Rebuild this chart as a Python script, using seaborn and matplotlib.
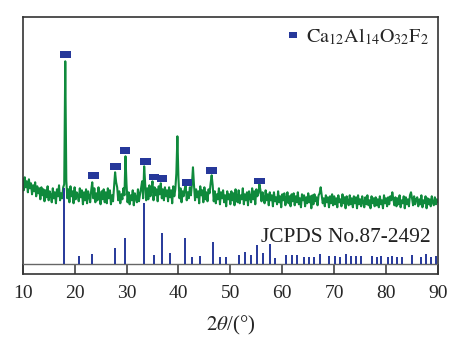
import numpy as np
import pandas as pd
import matplotlib
matplotlib.use("Agg")
import matplotlib.pyplot as plt
from matplotlib.lines import Line2D
import seaborn as sns

# ---- data -------------------------------------------------------------
# measured XRD pattern: 2theta from 10 to 90 deg in 0.2 deg steps (arb. units)
two_theta_start = 10.0
two_theta_step = 0.2
intensity = [
    96, 84, 97, 87, 93, 82, 95, 86, 91, 80, 89, 83, 92, 78, 88, 81, 86, 75, 87, 79,
    85, 73, 84, 77, 88, 74, 83, 79, 72, 86, 76, 82, 71, 85, 78, 89, 74, 81, 76, 87,
    90, 213, 94, 76, 85, 72, 88, 78, 83, 71, 87, 75, 82, 79, 73, 86, 77, 84, 70, 82,
    74, 85, 71, 83, 78, 72, 84, 92, 76, 86, 72, 81, 74, 87, 77, 70, 83, 75, 85, 72,
    82, 71, 86, 76, 84, 70, 79, 73, 88, 102, 92, 87, 74, 83, 71, 80, 75, 86, 79, 118,
    90, 72, 82, 70, 79, 74, 84, 69, 81, 76, 72, 85, 73, 80, 86, 93, 76, 108, 90, 74,
    86, 75, 89, 78, 84, 93, 74, 87, 79, 85, 73, 88, 80, 91, 76, 85, 74, 87, 78, 84,
    73, 87, 77, 84, 71, 88, 78, 85, 101, 138, 96, 76, 86, 72, 83, 78, 85, 89, 74, 82,
    76, 87, 79, 90, 107, 89, 74, 85, 77, 83, 71, 88, 79, 84, 72, 87, 75, 82, 73, 85,
    81, 91, 99, 89, 73, 83, 71, 80, 75, 86, 70, 82, 76, 84, 72, 79, 68, 83, 75, 80,
    70, 83, 74, 81, 69, 85, 76, 72, 84, 71, 79, 75, 86, 70, 80, 74, 82, 69, 83, 77,
    72, 86, 75, 83, 70, 85, 78, 81, 90, 84, 73, 82, 76, 71, 84, 74, 80, 69, 82, 74,
    79, 68, 82, 73, 77, 70, 83, 72, 78, 67, 80, 74, 81, 69, 76, 82, 71, 78, 68, 80,
    73, 81, 69, 78, 72, 82, 70, 76, 67, 80, 74, 79, 68, 77, 71, 81, 72, 78, 66, 79,
    70, 80, 73, 77, 69, 79, 81, 87, 79, 71, 76, 68, 79, 72, 77, 67, 78, 71, 80, 69,
    78, 70, 76, 67, 79, 72, 75, 68, 80, 71, 77, 66, 78, 73, 69, 79, 70, 76, 67, 78,
    71, 77, 66, 79, 70, 75, 68, 78, 72, 67, 77, 70, 79, 69, 74, 66, 78, 71, 76, 68,
    77, 69, 75, 67, 78, 70, 74, 66, 79, 71, 76, 68, 77, 70, 78, 74, 82, 75, 69, 77,
    68, 76, 70, 79, 67, 74, 71, 78, 66, 77, 70, 75, 68, 79, 82, 76, 69, 78, 70, 75,
    77, 68, 75, 70, 79, 67, 74, 71, 78, 66, 76, 70, 75, 68, 78, 72, 69, 77, 70, 75,
    72,
]

# peak markers for Ca12Al14O32F2
marker_theta = [18.3, 23.65, 27.9, 29.7, 33.65, 35.3, 36.85, 41.65, 46.35, 55.6]
marker_height = [220, 98.6, 107.6, 123.6, 113, 97.3, 95.6, 92, 103.6, 93.3]

# JCPDS No.87-2492 reference lines
ref_theta = [18.0, 20.8, 23.4, 27.75, 29.7, 33.4, 35.2, 36.8, 38.3, 41.3,
             42.7, 44.1, 46.7, 48.0, 49.2, 51.65, 52.9, 54.0, 55.2, 56.3,
             57.6, 58.65, 60.7, 61.8, 62.9, 64.1, 65.1, 66.2, 67.2, 69.1,
             70.1, 71.2, 72.2, 73.25, 74.2, 75.2, 77.2, 78.2, 79.1, 80.3,
             81.2, 82.1, 83.0, 84.9, 86.8, 87.7, 88.6, 89.6]
ref_height = [76, 8.7, 10.3, 16, 26, 61.7, 9.3, 31, 11.7, 26.7,
              7.7, 8.7, 22.7, 7.3, 7.7, 9, 12.3, 9, 19.3, 11.7,
              20, 6.7, 9, 9, 9.3, 7, 7, 7.3, 10.3, 8.3,
              8.3, 7.3, 10.3, 8.7, 8.3, 8.3, 8, 7.7, 8.3, 7.3,
              8, 7.7, 7.3, 9, 7, 10, 7.7, 8.3]
ref_base = 10

x_ticks = [10, 20, 30, 40, 50, 60, 70, 80, 90]
legend_label = r"$\mathrm{Ca_{12}Al_{14}O_{32}F_{2}}$"

# ---- style ------------------------------------------------------------
sns.set_style("white")
plt.rcParams["font.family"] = ["Liberation Serif", "DejaVu Serif"]
plt.rcParams["mathtext.fontset"] = "stix"

green = "#0f8a3c"
blue = "#26389a"

fig = plt.figure(figsize=(4.66, 3.48), dpi=100)
ax = fig.add_axes([0.0487, 0.2118, 0.8912, 0.7385])

theta = two_theta_start + two_theta_step * np.arange(len(intensity))
df = pd.DataFrame({"theta": theta, "I": intensity})
sns.lineplot(data=df, x="theta", y="I", color=green, lw=1.5, ax=ax, zorder=2)

# reference sticks
ax.axhline(ref_base, color="#666666", lw=1.0, zorder=3)
ax.vlines(ref_theta, ref_base, np.array(ref_height) + ref_base,
          color=blue, lw=1.4, zorder=4)

# markers (rectangular)
rect = [(-1, -0.62), (1, -0.62), (1, 0.62), (-1, 0.62), (-1, -0.62)]
mdf = pd.DataFrame({"t": marker_theta, "h": marker_height})
sns.scatterplot(data=mdf, x="t", y="h", marker=rect, s=60, color=blue,
                edgecolor="none", ax=ax, zorder=5, legend=False)

handle = Line2D([], [], marker=[(-1, -0.8), (1, -0.8), (1, 0.8), (-1, 0.8), (-1, -0.8)],
                ls="none", color=blue, markersize=5.5, markeredgewidth=0)
leg = ax.legend([handle], [legend_label], frameon=False, loc="upper right",
                fontsize=14.5, handletextpad=0.35, borderaxespad=0.2,
                borderpad=0.25, handlelength=0.6)

ax.text(88.6, 32.6, "JCPDS No.87-2492", ha="right", va="baseline",
        fontsize=15.4, color="#222222")

ax.set_xlim(10, 90)
ax.set_ylim(0, 257)
ax.set_xticks(x_ticks)
ax.set_yticks([])
ax.tick_params(axis="x", direction="in", length=7.2, width=1.1,
               color="#333333", labelsize=14, pad=8, bottom=True)
for s in ax.spines.values():
    s.set_linewidth(1.2)
    s.set_color("#333333")
ax.set_xlabel(r"$2\theta$/(°)", fontsize=15, labelpad=8)
ax.set_ylabel("")

fig.savefig("out.png", dpi=100)
